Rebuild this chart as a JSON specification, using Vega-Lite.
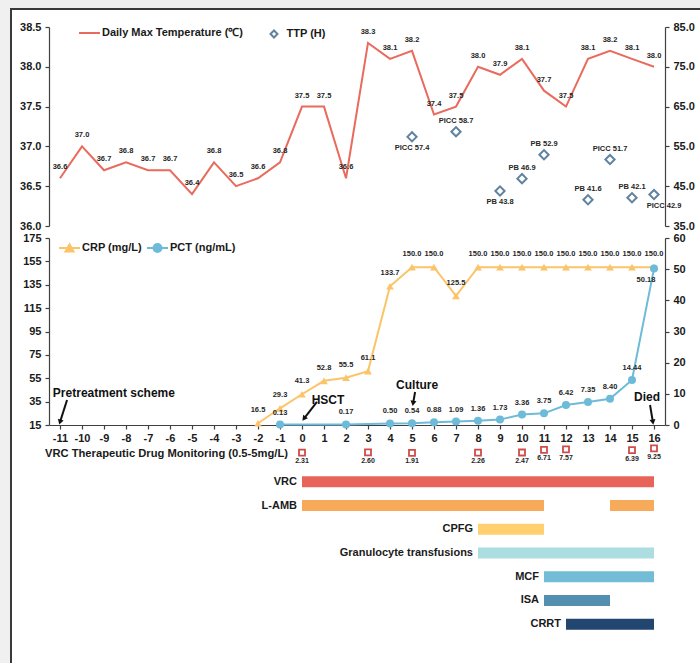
{
  "$schema": "https://vega.github.io/schema/vega-lite/v6.json",
  "width": 691,
  "height": 656,
  "padding": {"left": 11, "top": 9, "right": -2, "bottom": -2},
  "autosize": {"type": "none"},
  "background": "#f0f0f0",
  "config": {
    "font": "Liberation Sans",
    "view": {"fill": "white", "stroke": "#3a3a3a", "strokeWidth": 2},
    "axis": {"labelFont": "Liberation Sans", "labelFontSize": 11, "labelFontWeight": "bold", "labelColor": "#1a1a1a", "domainColor": "#404040", "tickColor": "#404040", "domainWidth": 1.2, "tickWidth": 1.2, "tickSize": 4, "grid": false, "labelPadding": 3},
    "legend": {"labelFont": "Liberation Sans", "labelFontSize": 11, "labelFontWeight": "bold", "labelColor": "#1a1a1a", "padding": 0, "titlePadding": 0},
    "text": {"font": "Liberation Sans", "fontWeight": "bold", "fontSize": 7.5, "color": "#262626"}
  },
  "datasets": {
    "temp": [
      {"day": -11, "t": 36.6}, {"day": -10, "t": 37.0}, {"day": -9, "t": 36.7}, {"day": -8, "t": 36.8},
      {"day": -7, "t": 36.7}, {"day": -6, "t": 36.7}, {"day": -5, "t": 36.4}, {"day": -4, "t": 36.8},
      {"day": -3, "t": 36.5}, {"day": -2, "t": 36.6}, {"day": -1, "t": 36.8}, {"day": 0, "t": 37.5},
      {"day": 1, "t": 37.5}, {"day": 2, "t": 36.6}, {"day": 3, "t": 38.3}, {"day": 4, "t": 38.1},
      {"day": 5, "t": 38.2}, {"day": 6, "t": 37.4}, {"day": 7, "t": 37.5}, {"day": 8, "t": 38.0},
      {"day": 9, "t": 37.9}, {"day": 10, "t": 38.1}, {"day": 11, "t": 37.7}, {"day": 12, "t": 37.5},
      {"day": 13, "t": 38.1}, {"day": 14, "t": 38.2}, {"day": 15, "t": 38.1}, {"day": 16, "t": 38.0}
    ],
    "ttp": [
      {"day": 5, "h": 57.4, "site": "PICC"}, {"day": 7, "h": 58.7, "site": "PICC"},
      {"day": 9, "h": 43.8, "site": "PB"}, {"day": 10, "h": 46.9, "site": "PB"},
      {"day": 11, "h": 52.9, "site": "PB"}, {"day": 13, "h": 41.6, "site": "PB"},
      {"day": 14, "h": 51.7, "site": "PICC"}, {"day": 15, "h": 42.1, "site": "PB"},
      {"day": 16, "h": 42.9, "site": "PICC"}
    ],
    "crp": [
      {"day": -2, "crp": 16.5}, {"day": -1, "crp": 29.3}, {"day": 0, "crp": 41.3}, {"day": 1, "crp": 52.8},
      {"day": 2, "crp": 55.5}, {"day": 3, "crp": 61.1}, {"day": 4, "crp": 133.7}, {"day": 5, "crp": 150.0},
      {"day": 6, "crp": 150.0}, {"day": 7, "crp": 125.5}, {"day": 8, "crp": 150.0}, {"day": 9, "crp": 150.0},
      {"day": 10, "crp": 150.0}, {"day": 11, "crp": 150.0}, {"day": 12, "crp": 150.0}, {"day": 13, "crp": 150.0},
      {"day": 14, "crp": 150.0}, {"day": 15, "crp": 150.0}, {"day": 16, "crp": 150.0}
    ],
    "pct": [
      {"day": -1, "pct": 0.13}, {"day": 2, "pct": 0.17}, {"day": 4, "pct": 0.50}, {"day": 5, "pct": 0.54},
      {"day": 6, "pct": 0.88}, {"day": 7, "pct": 1.09}, {"day": 8, "pct": 1.36}, {"day": 9, "pct": 1.73},
      {"day": 10, "pct": 3.36}, {"day": 11, "pct": 3.75}, {"day": 12, "pct": 6.42}, {"day": 13, "pct": 7.35},
      {"day": 14, "pct": 8.40}, {"day": 15, "pct": 14.44}, {"day": 16, "pct": 50.18}
    ],
    "tdm": [
      {"day": 0, "vrc": 2.31}, {"day": 3, "vrc": 2.60}, {"day": 5, "vrc": 1.91}, {"day": 8, "vrc": 2.26},
      {"day": 10, "vrc": 2.47}, {"day": 11, "vrc": 6.71}, {"day": 12, "vrc": 7.57}, {"day": 15, "vrc": 6.39},
      {"day": 16, "vrc": 9.25}
    ],
    "tx": [
      {"drug": "VRC", "start": 0, "end": 16},
      {"drug": "L-AMB", "start": 0, "end": 11},
      {"drug": "L-AMB", "start": 14, "end": 16},
      {"drug": "CPFG", "start": 8, "end": 11},
      {"drug": "Granulocyte transfusions", "start": 8, "end": 16},
      {"drug": "MCF", "start": 11, "end": 16},
      {"drug": "ISA", "start": 11, "end": 14},
      {"drug": "CRRT", "start": 12, "end": 16}
    ],
    "notes": [
      {"label": "Pretreatment scheme", "tx": -8.55, "ty": 42.4, "ax": -10.68, "ay": 36.4, "bx": -11.0, "by": 17.5},
      {"label": "HSCT", "tx": 1.18, "ty": 36.4, "ax": 0.68, "ay": 34.7, "bx": 0.09, "by": 20.5},
      {"label": "Culture", "tx": 5.23, "ty": 49.2, "ax": 5.14, "ay": 43.2, "bx": 5.05, "by": 33.5},
      {"label": "Died", "tx": 15.68, "ty": 39.0, "ax": 15.82, "ay": 32.1, "bx": 15.95, "by": 17.5}
    ]
  },
  "resolve": {"scale": {"y": "independent", "color": "independent"}},
  "layer": [
    {
      "data": {"name": "temp"},
      "mark": {"type": "line", "strokeWidth": 2},
      "encoding": {
        "x": {"field": "day", "type": "quantitative", "scale": {"domain": [-11.5, 16.5], "range": [38, 654], "nice": false, "zero": false},
              "axis": {"orient": "bottom", "offset": -240, "title": null, "values": [-11,-10,-9,-8,-7,-6,-5,-4,-3,-2,-1,0,1,2,3,4,5,6,7,8,9,10,11,12,13,14,15,16], "tickCount": 40, "labelExpr": "'' + datum.value", "labelOverlap": false, "labelFlush": false, "labelBound": false}},
        "y": {"field": "t", "type": "quantitative", "scale": {"domain": [36, 38.5], "range": [217, 18], "nice": false, "zero": false},
              "axis": {"orient": "left", "offset": -38, "title": null, "values": [36, 36.5, 37, 37.5, 38, 38.5], "format": ".1f", "labelPadding": 4}},
        "stroke": {"datum": "Daily Max Temperature (℃)", "type": "nominal", "scale": {"domain": ["Daily Max Temperature (℃)"], "range": ["#e96b5e"]},
                   "legend": {"orient": "none", "legendX": 67, "legendY": 12.5, "title": null, "symbolType": "stroke", "symbolSize": 441, "symbolStrokeWidth": 2, "labelOffset": 1}}
      }
    },
    {
      "data": {"name": "temp"},
      "mark": {"type": "text", "dy": -11},
      "encoding": {
        "x": {"field": "day", "type": "quantitative"},
        "y": {"field": "t", "type": "quantitative", "scale": {"domain": [36, 38.5], "range": [217, 18], "nice": false, "zero": false}, "axis": null},
        "text": {"field": "t", "type": "quantitative", "format": ".1f"}
      }
    },
    {
      "data": {"name": "ttp"},
      "mark": {"type": "point", "filled": false, "color": "#1f4e79", "strokeWidth": 2, "size": 85},
      "encoding": {
        "x": {"field": "day", "type": "quantitative"},
        "y": {"field": "h", "type": "quantitative", "scale": {"domain": [35, 85], "range": [217, 18], "nice": false, "zero": false},
              "axis": {"orient": "right", "offset": -37, "title": null, "values": [35, 45, 55, 65, 75, 85], "format": ".1f", "labelPadding": 4}},
        "shape": {"datum": "TTP (H)", "type": "nominal", "scale": {"domain": ["TTP (H)"], "range": ["diamond"]},
                  "legend": {"orient": "none", "legendX": 257.5, "legendY": 19.5, "title": null, "symbolSize": 49, "symbolStrokeWidth": 2, "labelOffset": 7}}
      }
    },
    {
      "data": {"name": "ttp"},
      "transform": [
        {"filter": "datum.day != 5 && datum.day != 9 && datum.day != 16"},
        {"calculate": "datum.site + ' ' + format(datum.h, '.1f')", "as": "lab"}
      ],
      "mark": {"type": "text", "dy": -11, "fontSize": 7.5},
      "encoding": {
        "x": {"field": "day", "type": "quantitative"},
        "y": {"field": "h", "type": "quantitative", "scale": {"domain": [35, 85], "range": [217, 18], "nice": false, "zero": false}, "axis": null},
        "text": {"field": "lab", "type": "nominal"}
      }
    },
    {
      "data": {"name": "ttp"},
      "transform": [
        {"filter": "datum.day == 5 || datum.day == 9"},
        {"calculate": "datum.site + ' ' + format(datum.h, '.1f')", "as": "lab"}
      ],
      "mark": {"type": "text", "dy": 11, "fontSize": 7.5},
      "encoding": {
        "x": {"field": "day", "type": "quantitative"},
        "y": {"field": "h", "type": "quantitative", "scale": {"domain": [35, 85], "range": [217, 18], "nice": false, "zero": false}, "axis": null},
        "text": {"field": "lab", "type": "nominal"}
      }
    },
    {
      "data": {"name": "ttp"},
      "transform": [
        {"filter": "datum.day == 16"},
        {"calculate": "datum.site + ' ' + format(datum.h, '.1f')", "as": "lab"}
      ],
      "mark": {"type": "text", "dy": 11, "dx": 10, "fontSize": 7.5},
      "encoding": {
        "x": {"field": "day", "type": "quantitative"},
        "y": {"field": "h", "type": "quantitative", "scale": {"domain": [35, 85], "range": [217, 18], "nice": false, "zero": false}, "axis": null},
        "text": {"field": "lab", "type": "nominal"}
      }
    },
    {
      "data": {"name": "crp"},
      "mark": {"type": "line", "strokeWidth": 2, "point": {"shape": "triangle-up", "size": 60, "filled": true}},
      "encoding": {
        "x": {"field": "day", "type": "quantitative"},
        "y": {"field": "crp", "type": "quantitative", "scale": {"domain": [15, 175], "range": [416, 229], "nice": false, "zero": false},
              "axis": {"orient": "left", "offset": -38, "title": null, "values": [15, 35, 55, 75, 95, 115, 135, 155, 175], "format": "d", "labelPadding": 4}},
        "color": {"datum": "CRP (mg/L)", "type": "nominal", "scale": {"domain": ["CRP (mg/L)"], "range": ["#fcc468"]},
                  "legend": {"orient": "none", "legendX": 47, "legendY": 227.5, "title": null, "symbolType": "M-1,0H1M-0.38,0.33L0,-0.36L0.38,0.33Z", "symbolSize": 441, "symbolStrokeWidth": 2, "symbolFillColor": "#fcc468", "labelOffset": 1}}
      }
    },
    {
      "data": {"name": "crp"},
      "mark": {"type": "text", "dy": -13},
      "encoding": {
        "x": {"field": "day", "type": "quantitative"},
        "y": {"field": "crp", "type": "quantitative", "scale": {"domain": [15, 175], "range": [416, 229], "nice": false, "zero": false}, "axis": null},
        "text": {"field": "crp", "type": "quantitative", "format": ".1f"}
      }
    },
    {
      "data": {"name": "pct"},
      "mark": {"type": "line", "strokeWidth": 2, "point": {"shape": "circle", "size": 64, "filled": true}},
      "encoding": {
        "x": {"field": "day", "type": "quantitative"},
        "y": {"field": "pct", "type": "quantitative", "scale": {"domain": [0, 60], "range": [416, 229], "nice": false, "zero": false},
              "axis": {"orient": "right", "offset": -37, "title": null, "values": [0, 10, 20, 30, 40, 50, 60], "format": "d", "labelPadding": 4}},
        "color": {"datum": "PCT (ng/mL)", "type": "nominal", "scale": {"domain": ["PCT (ng/mL)"], "range": ["#6dbbd8"]},
                  "legend": {"orient": "none", "legendX": 135, "legendY": 227.5, "title": null, "symbolType": "M-1,0H1M0.38,0A0.38,0.38 0 1 1 -0.38,0A0.38,0.38 0 1 1 0.38,0Z", "symbolSize": 441, "symbolStrokeWidth": 2, "symbolFillColor": "#6dbbd8", "labelOffset": 1}}
      }
    },
    {
      "data": {"name": "pct"},
      "transform": [{"filter": "datum.day != 16"}],
      "mark": {"type": "text", "dy": -12},
      "encoding": {
        "x": {"field": "day", "type": "quantitative"},
        "y": {"field": "pct", "type": "quantitative", "scale": {"domain": [0, 60], "range": [416, 229], "nice": false, "zero": false}, "axis": null},
        "text": {"field": "pct", "type": "quantitative", "format": ".2f"}
      }
    },
    {
      "data": {"name": "pct"},
      "transform": [{"filter": "datum.day == 16"}],
      "mark": {"type": "text", "dy": 11, "dx": -8},
      "encoding": {
        "x": {"field": "day", "type": "quantitative"},
        "y": {"field": "pct", "type": "quantitative", "scale": {"domain": [0, 60], "range": [416, 229], "nice": false, "zero": false}, "axis": null},
        "text": {"field": "pct", "type": "quantitative", "format": ".2f"}
      }
    },
    {
      "data": {"name": "tdm"},
      "mark": {"type": "point", "shape": "square", "filled": false, "color": "#c00000", "strokeWidth": 1.8, "size": 36},
      "encoding": {
        "x": {"field": "day", "type": "quantitative"},
        "y": {"field": "vrc", "type": "quantitative", "scale": {"domain": [0, 10], "range": [445, 439], "nice": false, "zero": false}, "axis": null}
      }
    },
    {
      "data": {"name": "tdm"},
      "mark": {"type": "text", "dy": 8.5, "fontSize": 7},
      "encoding": {
        "x": {"field": "day", "type": "quantitative"},
        "y": {"field": "vrc", "type": "quantitative", "scale": {"domain": [0, 10], "range": [445, 439], "nice": false, "zero": false}, "axis": null},
        "text": {"field": "vrc", "type": "quantitative", "format": ".2f"}
      }
    },
    {
      "data": {"values": [{"label": "VRC Therapeutic Drug Monitoring (0.5-5mg/L)", "day": 0, "vrc": 0}]},
      "mark": {"type": "text", "align": "right", "dx": -14, "fontSize": 11.2, "color": "#1a1a1a"},
      "encoding": {
        "x": {"field": "day", "type": "quantitative"},
        "y": {"field": "vrc", "type": "quantitative", "scale": {"domain": [0, 10], "range": [445, 439], "nice": false, "zero": false}, "axis": null},
        "text": {"field": "label", "type": "nominal"}
      }
    },
    {
      "data": {"name": "tx"},
      "mark": {"type": "bar", "height": 11},
      "encoding": {
        "x": {"field": "start", "type": "quantitative"},
        "x2": {"field": "end"},
        "y": {"field": "drug", "type": "nominal", "scale": {"type": "point", "domain": ["VRC", "L-AMB", "CPFG", "Granulocyte transfusions", "MCF", "ISA", "CRRT"], "range": [461, 627]}, "axis": null},
        "fill": {"field": "drug", "type": "nominal", "scale": {"domain": ["VRC", "L-AMB", "CPFG", "Granulocyte transfusions", "MCF", "ISA", "CRRT"], "range": ["#e8645a", "#f6aa5a", "#ffcf70", "#acdde0", "#72bcd6", "#538fae", "#22466f"]}, "legend": null}
      }
    },
    {
      "data": {"name": "tx"},
      "transform": [{"aggregate": [{"op": "min", "field": "start", "as": "s"}], "groupby": ["drug"]}],
      "mark": {"type": "text", "align": "right", "dx": -5, "fontSize": 11, "color": "#1a1a1a"},
      "encoding": {
        "x": {"field": "s", "type": "quantitative"},
        "y": {"field": "drug", "type": "nominal", "scale": {"type": "point", "domain": ["VRC", "L-AMB", "CPFG", "Granulocyte transfusions", "MCF", "ISA", "CRRT"], "range": [461, 627]}, "axis": null},
        "text": {"field": "drug", "type": "nominal"}
      }
    },
    {
      "data": {"name": "notes"},
      "mark": {"type": "text", "fontSize": 12, "color": "#111111"},
      "encoding": {
        "x": {"field": "tx", "type": "quantitative"},
        "y": {"field": "ty", "type": "quantitative", "scale": {"domain": [15, 175], "range": [416, 229], "nice": false, "zero": false}, "axis": null},
        "text": {"field": "label", "type": "nominal"}
      }
    },
    {
      "data": {"name": "notes"},
      "mark": {"type": "rule", "strokeWidth": 2, "color": "#111111"},
      "encoding": {
        "x": {"field": "ax", "type": "quantitative"},
        "x2": {"field": "bx"},
        "y": {"field": "ay", "type": "quantitative", "scale": {"domain": [15, 175], "range": [416, 229], "nice": false, "zero": false}, "axis": null},
        "y2": {"field": "by"}
      }
    },
    {
      "data": {"name": "notes"},
      "mark": {"type": "point", "shape": "triangle-down", "filled": true, "color": "#111111", "size": 36, "opacity": 1},
      "encoding": {
        "x": {"field": "bx", "type": "quantitative"},
        "y": {"field": "by", "type": "quantitative", "scale": {"domain": [15, 175], "range": [416, 229], "nice": false, "zero": false}, "axis": null},
        "angle": {"field": "bx", "type": "quantitative", "scale": {"domain": [-11, 0.09, 5.05, 15.95], "range": [17, 37, 9.5, -9.5], "nice": false, "zero": false}, "legend": null}
      }
    }
  ]
}
